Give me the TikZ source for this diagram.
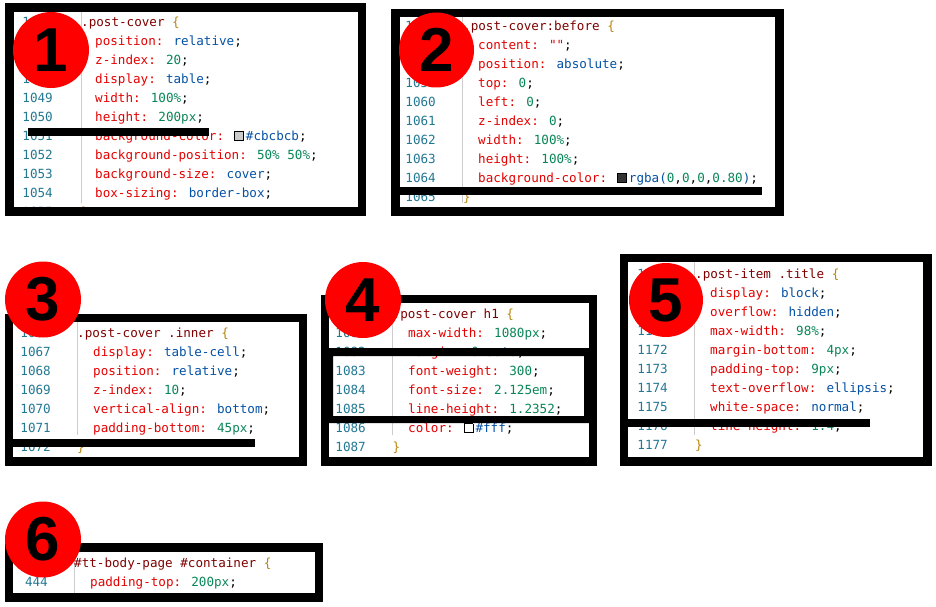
\documentclass[tikz,border=0pt]{standalone}
\usepackage{fontspec}
\newfontfamily\codef{DejaVu Sans Mono}
\newfontfamily\digf{Liberation Sans}
\definecolor{sel}{HTML}{800000}
\definecolor{pr}{HTML}{E50000}
\definecolor{vb}{HTML}{0451A5}
\definecolor{vn}{HTML}{098658}
\definecolor{ln}{HTML}{237893}
\definecolor{br}{HTML}{B8860B}
\definecolor{sw1}{HTML}{CBCBCB}
\definecolor{sw2}{HTML}{333333}
\newcommand\cP[1]{\textcolor{pr}{#1:} }
\newcommand\cV[1]{\textcolor{vb}{#1}}
\newcommand\cN[1]{\textcolor{vn}{#1}}
\newcommand\cS[1]{\textcolor{sel}{#1} \textcolor{br}{\{}}
\newcommand\cB{\textcolor{br}{\}}}
\newcommand\csw[1]{{\setlength\fboxsep{0pt}\setlength\fboxrule{0.8pt}\fcolorbox{black}{#1}{\rule{0pt}{8pt}\rule{8pt}{0pt}}}\,}
\tikzset{
  code/.style={anchor=mid west,inner sep=0pt,yshift=-3pt,font=\codef\fontsize{12.6}{14}\selectfont},
  lnum/.style={anchor=mid east,inner sep=0pt,yshift=-3pt,text=ln,font=\codef\fontsize{12.6}{14}\selectfont},
  frame/.style={draw=black,line width=8.5pt},
  bar/.style={line width=8pt,black},
  gut/.style={draw=black!20,line width=0.8pt},
  badge/.style={circle,fill=red,minimum size=#1,inner sep=0pt,font=\digf\bfseries\fontsize{62}{62}\selectfont,text=black},
}
\begin{document}
\begin{tikzpicture}[x=1pt,y=-1pt]
\useasboundingbox (0,0) rectangle (936,607);
\fill[white] (0,0) rectangle (936,607);
% ---------- Panel 1
\begin{scope}
\clip (14,12) rectangle (358,207);
\draw[gut] (81,12) -- (81,203);
\foreach \n [count=\i from 0] in {1045,...,1055}
  \node[lnum] (p1n\i) at (53,21+19*\i) {\n};
\node[code] (p1c0) at (81,21) {\cS{.post-cover}};
\node[code] (p1c1) at (95,40) {\cP{position}\cV{relative};};
\node[code] (p1c2) at (95,59) {\cP{z-index}\cN{20};};
\node[code] (p1c3) at (95,78) {\cP{display}\cV{table};};
\node[code] (p1c4) at (95,97) {\cP{width}\cN{100\%};};
\node[code] (p1c5) at (95,116) {\cP{height}\cN{200px};};
\node[code] (p1c6) at (95,135) {\cP{background-color}\csw{sw1}\cV{\#cbcbcb};};
\node[code] (p1c7) at (95,154) {\cP{background-position}\cN{50\% 50\%};};
\node[code] (p1c8) at (95,173) {\cP{background-size}\cV{cover};};
\node[code] (p1c9) at (95,192) {\cP{box-sizing}\cV{border-box};};
\node[code] (p1c10) at (81,211) {\cB};
\draw[bar] (28,132) -- (209,132);
\end{scope}
\draw[frame] (9.5,7.5) rectangle (362,211.5);
\node[badge=76pt] (b1) at (51,50) {1};
% ---------- Panel 2
\begin{scope}
\clip (399,17) rectangle (776,207);
\draw[gut] (462,17) -- (462,203);
\foreach \n [count=\i from 0] in {1056,...,1065}
  \node[lnum] (p2n\i) at (436,25+19*\i) {\n};
\node[code] (p2c0) at (463,25) {\cS{.post-cover:before}};
\node[code] (p2c1) at (478,44) {\cP{content}\textcolor{pr}{""};};
\node[code] (p2c2) at (478,63) {\cP{position}\cV{absolute};};
\node[code] (p2c3) at (478,82) {\cP{top}\cN{0};};
\node[code] (p2c4) at (478,101) {\cP{left}\cN{0};};
\node[code] (p2c5) at (478,120) {\cP{z-index}\cN{0};};
\node[code] (p2c6) at (478,139) {\cP{width}\cN{100\%};};
\node[code] (p2c7) at (478,158) {\cP{height}\cN{100\%};};
\node[code] (p2c8) at (478,177) {\cP{background-color}\csw{sw2}\cV{rgba(}\cN{0},\cN{0},\cN{0},\cN{0.80}\cV{)};};
\node[code] (p2c9) at (463,196) {\cB};
\draw[bar] (399,191) -- (762,191);
\end{scope}
\draw[frame] (395.5,13) rectangle (779.5,211.5);
\node[badge=75pt] (b2) at (436.5,50) {2};
% ---------- Panel 3
\begin{scope}
\clip (13,322) rectangle (299,457);
\draw[gut] (77,322) -- (77,435);
\foreach \n [count=\i from 0] in {1066,...,1072}
  \node[lnum] (p3n\i) at (51,332+19*\i) {\n};
\node[code] (p3c0) at (77,332) {\cS{.post-cover .inner}};
\node[code] (p3c1) at (93,351) {\cP{display}\cV{table-cell};};
\node[code] (p3c2) at (93,370) {\cP{position}\cV{relative};};
\node[code] (p3c3) at (93,389) {\cP{z-index}\cN{10};};
\node[code] (p3c4) at (93,408) {\cP{vertical-align}\cV{bottom};};
\node[code] (p3c5) at (93,427) {\cP{padding-bottom}\cN{45px};};
\node[code] (p3c6) at (77,446) {\cB};
\draw[bar] (13,443) -- (255,443);
\end{scope}
\draw[frame] (9,318) rectangle (303,461.5);
\node[badge=76pt] (b3) at (43,299.5) {3};
% ---------- Panel 4
\begin{scope}
\clip (329,303) rectangle (589,457);
\draw[gut] (392,303) -- (392,435);
\foreach \n [count=\i from 0] in {1080,...,1087}
  \node[lnum] (p4n\i) at (366,313+19*\i) {\n};
\node[code] (p4c0) at (392.5,313) {\cS{.post-cover h1}};
\node[code] (p4c1) at (408,332) {\cP{max-width}\cN{1080px};};
\node[code] (p4c2) at (408,351) {\cP{margin}\cN{0} \cV{auto};};
\node[code] (p4c3) at (408,370) {\cP{font-weight}\cN{300};};
\node[code] (p4c4) at (408,389) {\cP{font-size}\cN{2.125em};};
\node[code] (p4c5) at (408,408) {\cP{line-height}\cN{1.2352};};
\node[code] (p4c6) at (408,427) {\cP{color}\csw{white}\cV{\#fff};};
\node[code] (p4c7) at (392.5,446) {\cB};
\fill[even odd rule,black] (329,348) rectangle (589,423) (333,356) rectangle (584,416);
\end{scope}
\draw[frame] (325,299) rectangle (593,461.5);
\node[badge=76pt] (b4) at (363,300) {4};
% ---------- Panel 5
\begin{scope}
\clip (628,262) rectangle (923,457);
\draw[gut] (694,262) -- (694,435);
\foreach \n [count=\i from 0] in {1168,...,1177}
  \node[lnum] (p5n\i) at (668,273+19*\i) {\n};
\node[code] (p5c0) at (695,273) {\cS{.post-item .title}};
\node[code] (p5c1) at (710,292) {\cP{display}\cV{block};};
\node[code] (p5c2) at (710,311) {\cP{overflow}\cV{hidden};};
\node[code] (p5c3) at (710,330) {\cP{max-width}\cN{98\%};};
\node[code] (p5c4) at (710,349) {\cP{margin-bottom}\cN{4px};};
\node[code] (p5c5) at (710,368) {\cP{padding-top}\cN{9px};};
\node[code] (p5c6) at (710,387) {\cP{text-overflow}\cV{ellipsis};};
\node[code] (p5c7) at (710,406) {\cP{white-space}\cV{normal};};
\node[code] (p5c8) at (710,425) {\cP{line-height}\cN{1.4};};
\node[code] (p5c9) at (695,444) {\cB};
\draw[bar] (628,423) -- (870,423);
\end{scope}
\draw[frame] (624,258) rectangle (927.5,461.5);
\node[badge=74pt] (b5) at (666,300) {5};
% ---------- Panel 6
\begin{scope}
\clip (13,552) rectangle (315,593);
\draw[gut] (74,552) -- (74,593);
\node[lnum] (p6n0) at (48,562) {443};
\node[lnum] (p6n1) at (48,581) {444};
\node[code] (p6c0) at (74,562) {\cS{\#tt-body-page \#container}};
\node[code] (p6c1) at (90,581) {\cP{padding-top}\cN{200px};};
\end{scope}
\draw[frame] (9,547.5) rectangle (319,597.5);
\node[badge=76pt] (b6) at (43,539.5) {6};
\end{tikzpicture}
\end{document}
